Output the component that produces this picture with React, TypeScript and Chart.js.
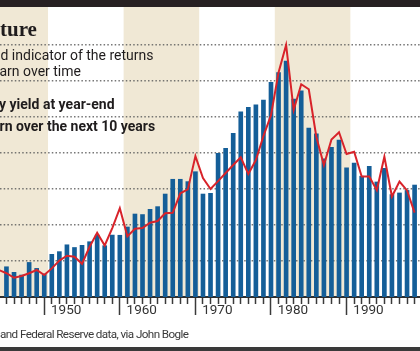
import { useEffect, useRef } from 'react';
import { Chart, registerables } from 'chart.js';

Chart.register(...registerables);

// Years shown as bars (each bar sits in the middle of its year)
const YEARS = [
  1944, 1945, 1946, 1947, 1948, 1949, 1950, 1951, 1952, 1953, 1954, 1955, 1956, 1957,
  1958, 1959, 1960, 1961, 1962, 1963, 1964, 1965, 1966, 1967, 1968, 1969, 1970, 1971,
  1972, 1973, 1974, 1975, 1976, 1977, 1978, 1979, 1980, 1981, 1982, 1983, 1984, 1985,
  1986, 1987, 1988, 1989, 1990, 1991, 1992, 1993, 1994, 1995, 1996, 1997, 1998,
];

// Yield at year-end (blue bars)
const YIELD_AT_YEAR_END = [
  1.68, 1.37, 1.22, 1.92, 1.59, 1.28, 2.37, 2.52, 2.9, 2.75, 2.87, 3.07, 3.44, 2.85,
  3.44, 3.43, 3.89, 4.61, 4.58, 4.87, 5.02, 5.72, 6.54, 6.54, 6.41, 6.96, 5.72, 5.76,
  7.98, 8.26, 9.09, 10.29, 10.53, 10.67, 10.94, 11.92, 12.47, 13.11, 11.0, 11.46, 9.39, 9.07,
  7.67, 8.31, 8.72, 7.17, 7.44, 6.71, 7.26, 6.39, 7.15, 5.69, 5.78, 5.92, 6.22,
];

// Return over the next 10 years (red line) – starts one year before the visible bars
const LINE_YEARS = [1943, ...YEARS];
const RETURN_NEXT_10_YEARS = [
  1.5, 1.32, 1.07, 1.17, 1.32, 1.5, 1.22, 1.59, 2.02, 2.29, 2.24, 1.85, 2.79, 3.57, 2.86,
  3.83, 4.93, 3.37, 3.79, 3.83, 4.13, 4.22, 4.65, 4.68, 5.76, 5.98, 7.83, 6.61, 6.0,
  6.44, 6.89, 7.33, 7.76, 6.83, 7.61, 8.94, 10.1, 12.47, 14.0, 10.39, 11.82, 11.54, 8.89,
  7.33, 8.75, 9.15, 7.94, 8.07, 6.69, 6.69, 5.93, 7.79, 5.58, 6.41, 5.92, 4.69,
];

const DECADE_LABELS = [1950, 1960, 1970, 1980, 1990];
const SHADED_DECADES = [1940, 1960, 1980];
const GRID_VALUES = [2, 4, 6, 8, 10, 12, 14];

const BLUE = '#145e98';
const RED = '#d8232a';
const BEIGE = '#f0e8d5';
const INK = '#1f1c1d';

const bandsPlugin = {
  id: 'decadeBands',
  beforeDraw(chart: any) {
    const { ctx, chartArea, scales } = chart;
    const x = scales.x;
    ctx.save();
    ctx.beginPath();
    ctx.rect(chartArea.left, chartArea.top, chartArea.right - chartArea.left, chartArea.bottom - chartArea.top);
    ctx.clip();
    ctx.fillStyle = BEIGE;
    SHADED_DECADES.forEach((d) => {
      const x0 = x.getPixelForValue(d);
      const x1 = x.getPixelForValue(d + 10);
      ctx.fillRect(x0, chartArea.top, x1 - x0, chartArea.bottom - chartArea.top);
    });
    ctx.restore();
  },
};

function Txt(props: {
  text: string; left: number; baseline: number; size: number; family: string;
  weight?: number; color?: string; asc: number; spacing?: number;
}) {
  const { text, left, baseline, size, family, weight = 400, color = INK, asc, spacing = 0 } = props;
  return (
    <div
      style={{
        position: 'absolute',
        left,
        top: baseline - asc * size,
        fontFamily: family,
        fontSize: size,
        lineHeight: `${size}px`,
        fontWeight: weight,
        color,
        whiteSpace: 'nowrap',
        letterSpacing: spacing,
      }}
    >
      {text}
    </div>
  );
}

export default function App() {
  const ref = useRef<HTMLCanvasElement | null>(null);

  useEffect(() => {
    if (!ref.current) return;
    const chart = new Chart(ref.current, {
      type: 'bar',
      data: {
        datasets: [
          {
            type: 'line',
            label: 'Return over the next 10 years',
            data: LINE_YEARS.map((yr, i) => ({ x: yr + 0.5, y: RETURN_NEXT_10_YEARS[i] })),
            borderColor: RED,
            borderWidth: 2,
            pointRadius: 0,
            tension: 0,
            fill: false,
            clip: 0,
            order: 0,
          } as any,
          {
            type: 'bar',
            label: 'Yield at year-end',
            data: YEARS.map((yr, i) => ({ x: yr + 0.5, y: YIELD_AT_YEAR_END[i] })),
            backgroundColor: BLUE,
            borderWidth: 0,
            barThickness: 4,
            order: 1,
          } as any,
        ],
      },
      options: {
        animation: false,
        responsive: false,
        devicePixelRatio: 1,
        layout: { padding: { top: 7, left: 0, right: 0, bottom: 0 } },
        plugins: { legend: { display: false }, tooltip: { enabled: false }, title: { display: false } },
        scales: {
          x: {
            type: 'linear',
            min: 1944.16,
            max: 1998.7,
            afterBuildTicks: (scale: any) => {
              scale.ticks = YEARS.slice(1).map((v) => ({ value: v }));
            },
            afterFit: (scale: any) => {
              scale.height = 54;
            },
            grid: {
              drawOnChartArea: false,
              drawTicks: true,
              tickLength: 18,
              tickColor: '#3a3a3a',
              tickWidth: 1.5,
              tickBorderDash: (ctx: any) =>
                ctx.tick && DECADE_LABELS.includes(ctx.tick.value) ? [] : [6, 60],
            },
            border: { display: true, color: '#2e2e2e', width: 2 },
            ticks: {
              autoSkip: false,
              maxRotation: 0,
              minRotation: 0,
              align: 'start',
              labelOffset: 3,
              padding: -12,
              color: '#333',
              font: { family: 'Roboto', size: 13.5 },
              callback: (v: any) => (DECADE_LABELS.includes(Number(v)) ? String(v) : ''),
            },
          },
          y: {
            type: 'linear',
            min: 0,
            max: 16.11,
            afterBuildTicks: (scale: any) => {
              scale.ticks = GRID_VALUES.map((v) => ({ value: v }));
            },
            afterFit: (scale: any) => {
              scale.width = 0;
            },
            ticks: { display: false },
            border: { display: false, dash: [1.5, 2.2] },
            grid: {
              drawTicks: false,
              color: 'rgba(95,95,95,0.85)',
              lineWidth: 1.4,
            },
          },
        },
      } as any,
      plugins: [bandsPlugin],
    });
    return () => chart.destroy();
  }, []);

  return (
    <div style={{ position: 'absolute', left: 0, top: 0, width: 420, height: 351, overflow: 'hidden', background: '#fff' }}>
      <canvas ref={ref} width={420} height={351} style={{ position: 'absolute', left: 0, top: 0, width: 420, height: 351 }} />
      <div style={{ position: 'absolute', left: 0, top: 0, width: 420, height: 7, background: '#272022' }} />
      <div style={{ position: 'absolute', left: 0, top: 347, width: 420, height: 4, background: '#3a3a3a' }} />
      <Txt text="ture" left={0} baseline={36.5} size={21} family="'Liberation Serif', serif" weight={700} asc={0.8375} />
      <Txt text="d indicator of the returns" left={0.5} baseline={59.3} size={14} family="Roboto, sans-serif" asc={0.8415} />
      <Txt text="arn over time" left={-0.5} baseline={76} size={14} family="Roboto, sans-serif" asc={0.8415} />
      <Txt text="y yield at year-end" left={-1} baseline={108.3} size={14} family="Roboto, sans-serif" weight={700} asc={0.8415} />
      <Txt text="rn over the next 10 years" left={-0.5} baseline={131} size={14} family="Roboto, sans-serif" weight={700} asc={0.8415} />
      <Txt text="and Federal Reserve data, via John Bogle" left={0} baseline={339} size={11.7} family="Roboto, sans-serif" color="#3a3a3a" asc={0.8415} spacing={-0.6} />
    </div>
  );
}
